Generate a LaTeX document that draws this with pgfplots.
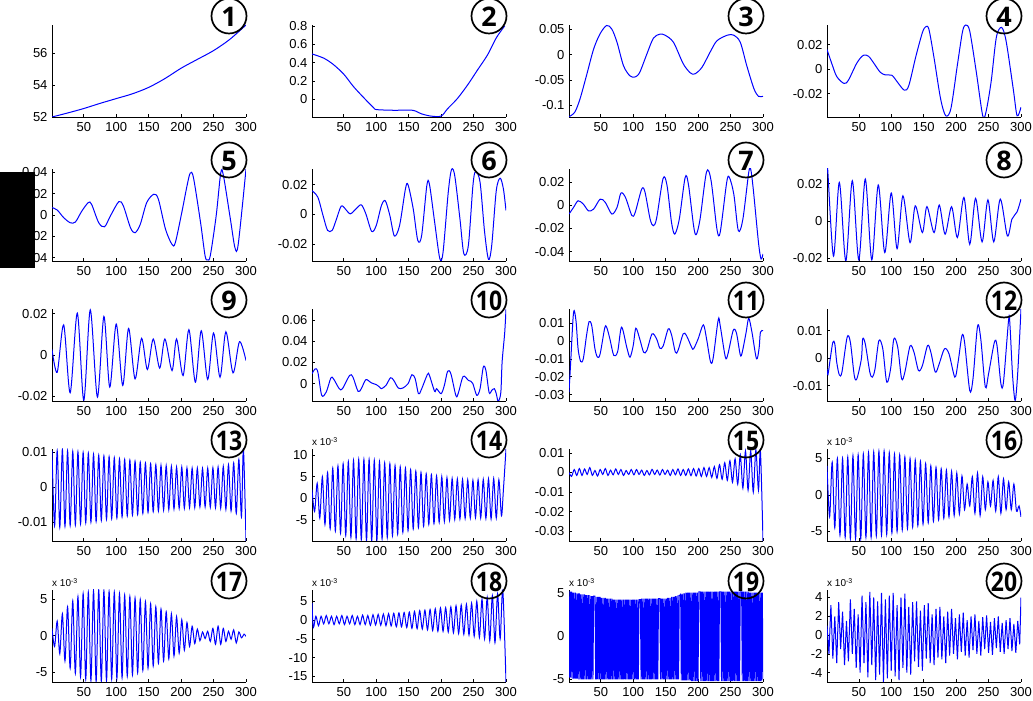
\documentclass[border=0pt]{standalone}
\usepackage{fontspec}
\setmainfont{Liberation Sans}
\newfontfamily\circfont{Open Sans}
\usepackage{graphicx}
\usepackage{pgfplots}
\pgfplotsset{compat=1.18}
\newcommand{\circnum}[2][1]{%
  \node[circle,draw,line width=1.7pt,minimum size=35pt,inner sep=0pt] at (rel axis cs:1,1) [xshift=-17pt,yshift=9pt] {};
  \node[inner sep=0pt,font=\circfont\bfseries\fontsize{27}{27}\selectfont] at (rel axis cs:1,1) [xshift=-17pt,yshift=8pt] {\scalebox{#1}[1]{#2}};}
\newcommand{\expo}{\node[anchor=south west,inner sep=0pt,font=\fontsize{10}{10}\selectfont] at (rel axis cs:0,1) [yshift=3pt] {x 10\textsuperscript{-3}};}
\pgfplotsset{
  sub/.style={scale only axis,width=194pt,height=92pt,anchor=south west,
    axis lines*=left, axis line style={-,line width=0.7pt},
    xmin=1,xmax=300,xtick={50,100,150,200,250,300},
    tick align=inside, major tick length=3pt, tick style={line width=0.6pt,black},
    tick label style={font=\fontsize{13}{13}\selectfont},
    /pgf/number format/assume math mode=true,
    scaled ticks=false,
    yticklabel style={/pgf/number format/fixed,/pgf/number format/precision=2,xshift=-1pt},
    xticklabel style={yshift=-2pt},
    clip mode=individual,
    every axis plot/.append style={blue,line width=1pt,no markers}},
}
\begin{document}
\begin{tikzpicture}
\useasboundingbox (0,0) rectangle (1033pt,701pt);
% ---------------- row 1
\begin{axis}[sub,at={(52pt,584pt)},ymin=52,ymax=57.75,ytick={52,54,56}]
\addplot+[smooth] coordinates {(1,52)(25,52.25)(50,52.53)(75,52.85)(100,53.15)(125,53.45)(150,53.85)(175,54.4)(200,55.05)(225,55.6)(250,56.15)(275,56.85)(300,57.75)};
\circnum{1}
\end{axis}
\begin{axis}[sub,at={(312pt,584pt)},ymin=-0.19,ymax=0.81,ytick={0,0.2,0.4,0.6,0.8}]
\addplot+[smooth] coordinates {(1,0.495)(19,0.45)(34,0.38)(50,0.275)(65,0.14)(81,0.018)(96,-0.09)(101,-0.11)(127,-0.117)(156,-0.117)(169,-0.154)(184,-0.18)(200,-0.18)(210,-0.1)(225,0.01)(241,0.16)(256,0.32)(272,0.49)(285,0.67)(298,0.8)};
\circnum{2}
\end{axis}
\begin{axis}[sub,at={(569pt,584pt)},ymin=-0.1226,ymax=0.058,ytick={-0.1,-0.05,0,0.05}]
\addplot+[smooth] coordinates {(1,-0.122)(10,-0.113)(18,-0.087)(28,-0.041)(39,0.011)(49,0.041)(59,0.057)(67,0.05)(75,0.024)(85,-0.022)(95,-0.042)(103,-0.044)(110,-0.035)(121,0.001)(131,0.032)(141,0.04)(149,0.038)(162,0.024)(177,-0.018)(188,-0.036)(195,-0.038)(206,-0.025)(219,0.006)(229,0.027)(245,0.038)(255,0.038)(265,0.024)(275,-0.022)(286,-0.067)(293,-0.082)(300,-0.082)};
\circnum{3}
\end{axis}
\begin{axis}[sub,at={(827pt,584pt)},ymin=-0.039,ymax=0.036,ytick={-0.02,0,0.02}]
\addplot+[smooth] coordinates {(1,0.016)(9,0.0036)(16,-0.006)(27,-0.0116)(34,-0.009)(47,0.005)(57,0.0113)(65,0.0105)(73,0.005)(83,-0.0025)(91,-0.0047)(101,-0.005)(109,-0.0102)(120,-0.0171)(127,-0.0135)(138,0.0105)(148,0.0298)(153,0.0345)(158,0.0326)(166,0.0091)(176,-0.024)(184,-0.038)(192,-0.032)(202,0.0036)(210,0.031)(215,0.036)(221,0.031)(231,-0.002)(241,-0.038)(246,-0.035)(254,-0.010)(262,0.026)(270,0.034)(277,0.023)(288,-0.016)(294,-0.038)(300,-0.031)};
\circnum{4}
\end{axis}
% ---------------- row 2
\begin{axis}[sub,at={(52pt,440pt)},ymin=-0.043,ymax=0.043,ytick={-0.04,-0.02,0,0.02,0.04}]
\addplot+[smooth] coordinates {(1,0.0069)(9,0.0047)(19,-0.0025)(29,-0.0072)(37,-0.0066)(47,0.0037)(57,0.0116)(62,0.01)(73,-0.0072)(82,-0.011)(91,-0.0009)(104,0.0125)(111,0.0084)(122,-0.012)(129,-0.0166)(137,-0.0088)(147,0.0116)(158,0.0194)(165,0.0147)(176,-0.0134)(186,-0.0275)(191,-0.026)(201,0.0022)(209,0.027)(214,0.0391)(219,0.035)(230,-0.0072)(237,-0.0384)(241,-0.042)(245,-0.038)(254,-0.0009)(261,0.039)(265,0.0375)(276,-0.0041)(283,-0.0306)(288,-0.0275)(300,0.0428)};
\circnum{5}
\end{axis}
\begin{axis}[sub,at={(312pt,440pt)},ymin=-0.0313,ymax=0.0306,ytick={-0.02,0,0.02}]
\addplot+[smooth] coordinates {(1,0.016)(10,0.0116)(18,-0.0007)(25,-0.0107)(32,-0.0107)(38,-0.004)(46,0.0056)(53,0.0034)(60,0.0004)(69,0.0038)(77,0.0065)(84,0.0004)(93,-0.0114)(100,-0.0074)(108,0.006)(114,0.0092)(121,-0.0007)(128,-0.0145)(136,-0.0074)(145,0.0172)(149,0.02)(157,0.0038)(164,-0.0174)(170,-0.0141)(178,0.0195)(182,0.0203)(190,-0.0051)(198,-0.0297)(203,-0.0253)(211,0.015)(216,0.0302)(221,0.0261)(229,-0.0029)(235,-0.0264)(242,-0.0208)(249,0.0194)(253,0.0288)(260,0.0217)(267,-0.0118)(273,-0.0302)(278,-0.0208)(285,0.016)(291,0.0244)(296,0.0172)(300,0.0027)};
\circnum{6}
\end{axis}
\begin{axis}[sub,at={(569pt,440pt)},ymin=-0.048,ymax=0.031,ytick={-0.04,-0.02,0,0.02}]
\addplot+[smooth] coordinates {(1,-0.0077)(8,-0.002)(15,0.0037)(23,0.0009)(31,-0.0049)(39,-0.0034)(49,0.0051)(57,0.0023)(67,-0.0077)(75,-0.002)(81,0.0103)(88,0.0066)(98,-0.0091)(103,-0.0063)(113,0.0137)(118,0.0114)(126,-0.012)(131,-0.0177)(136,-0.0114)(146,0.0229)(152,0.0171)(159,-0.0149)(164,-0.0249)(171,-0.012)(180,0.0237)(185,0.018)(193,-0.0177)(197,-0.0254)(203,-0.012)(213,0.0286)(220,0.0209)(229,-0.0206)(234,-0.0234)(244,0.0194)(248,0.024)(255,0.0094)(262,-0.022)(269,-0.012)(278,0.028)(281,0.0309)(285,0.0137)(293,-0.032)(297,-0.0463)(300,-0.042)};
\circnum{7}
\end{axis}
\begin{axis}[sub,at={(827pt,440pt)},ymin=-0.0216,ymax=0.0279,ytick={-0.02,0,0.02}]
\addplot+[smooth] coordinates {(1,0.026)(2,0.028)(11,-0.019)(20,0.0207)(30,-0.0216)(40,0.0216)(50,-0.021)(60,0.0225)(70,-0.021)(80,0.0193)(90,-0.0171)(100,0.015)(109,-0.015)(118,0.0135)(129,-0.0117)(137,0.0081)(148,-0.0063)(155,0.0077)(166,-0.0063)(174,0.0085)(183,-0.0072)(193,0.0076)(202,-0.009)(212,0.0126)(221,-0.0126)(230,0.0121)(240,-0.0113)(249,0.0113)(258,-0.0113)(268,0.0117)(279,-0.0081)(286,0.0009)(294,0.0049)(300,0.0117)};
\circnum{8}
\end{axis}
% ---------------- row 3
\begin{axis}[sub,at={(52pt,300pt)},ymin=-0.0223,ymax=0.0222,ytick={-0.02,0,0.02}]
\addplot+[smooth] coordinates {(1,0.0026)(9,-0.0084)(19,0.0145)(29,-0.0183)(40,0.0202)(50,-0.022)(60,0.0218)(71,-0.0204)(81,0.0186)(90,-0.0156)(100,0.0149)(110,-0.0148)(119,0.0128)(129,-0.0116)(139,0.008)(148,-0.0071)(157,0.0077)(167,-0.0064)(175,0.0077)(186,-0.0076)(193,0.0077)(203,-0.01)(212,0.0122)(222,-0.0132)(231,0.0117)(241,-0.0119)(250,0.0106)(260,-0.0108)(269,0.0112)(280,-0.0087)(290,0.0064)(300,-0.0027)};
\circnum{9}
\end{axis}
\begin{axis}[sub,at={(312pt,300pt)},ymin=-0.0163,ymax=0.0703,ytick={0,0.02,0.04,0.06}]
\addplot+[smooth] coordinates {(1,0.0094)(6,0.014)(10,0.011)(16,-0.011)(23,-0.0078)(30,0.0053)(34,0.0047)(43,-0.0047)(48,-0.0047)(59,0.0078)(64,0.0063)(72,-0.0072)(77,-0.0047)(84,0.0038)(92,0.0009)(100,-0.0009)(105,-0.0031)(108,-0.0047)(115,-0.0016)(122,0.0056)(127,0.0031)(134,-0.0041)(141,-0.0041)(149,0)(155,0.0084)(160,0.0047)(165,-0.0094)(169,-0.0063)(179,0.0088)(182,0.0078)(190,-0.0072)(193,-0.0047)(200,-0.0094)(205,-0.0016)(210,0.0116)(215,0.0094)(223,-0.0116)(227,-0.0078)(234,0.0069)(242,0.0031)(246,0.0022)(249,0)(255,-0.011)(260,-0.0047)(265,0.0156)(269,0.0125)(274,-0.0084)(278,-0.0063)(282,-0.0047)(285,-0.0094)(288,-0.0166)(292,-0.0084)(294,0.0203)(298,0.048)(300,0.07)};
\circnum[0.85]{10}
\end{axis}
\begin{axis}[sub,at={(569pt,300pt)},ymin=-0.0336,ymax=0.0181,ytick={-0.03,-0.02,-0.01,0,0.01}]
\addplot+[smooth] coordinates {(1,-0.0286)(3.6,-0.0118)(7,0.0116)(9,0.0172)(12,0.0107)(15,-0.0043)(19,-0.0114)(23,-0.0099)(28,0.0032)(32,0.011)(36,0.0088)(41,-0.0043)(45,-0.009)(49,-0.0071)(56,0.0073)(59,0.0079)(64,0.0013)(70,-0.008)(76,-0.0058)(82,0.0079)(90,-0.0034)(95,-0.009)(100,-0.0024)(104,0.0073)(110,0.0013)(116,-0.0062)(121,-0.0052)(129,0.0041)(136,0.0013)(141,-0.0039)(146,-0.0028)(154,0.0069)(159,0.0036)(165,-0.0062)(169,-0.0052)(177,0.0041)(182,0.0032)(190,-0.0034)(193,-0.0043)(200,0.0013)(208,0.0092)(213,0.0013)(219,-0.0114)(223,-0.0099)(231,0.0121)(234,0.0088)(242,-0.009)(246,-0.0071)(254,0.006)(259,0.0047)(265,-0.0077)(268,-0.0062)(274,0.005)(278,0.0129)(283,0.005)(290,-0.0099)(294,-0.0039)(296,0.005)(300,0.006)};
\circnum[0.85]{11}
\end{axis}
\begin{axis}[sub,at={(827pt,300pt)},ymin=-0.0156,ymax=0.0179,ytick={-0.01,0,0.01}]
\addplot+[smooth] coordinates {(1,-0.0039)(2.5,-0.006)(6,-0.0002)(10,0.0058)(13,0.0052)(16,-0.0015)(20,-0.0061)(24,-0.0051)(32,0.0076)(37,0.0058)(43,-0.0063)(47,-0.0075)(54,-0.0002)(56,0.007)(60,0.0052)(67,-0.0051)(71,-0.0069)(75,-0.0039)(81,0.0064)(87,0.0034)(93,-0.0087)(99,-0.0039)(104,0.007)(110,0.004)(116,-0.0075)(121,-0.0051)(129,0.0044)(135,0.0022)(142,-0.0045)(148,-0.0027)(156,0.0046)(161,0.0022)(168,-0.0051)(174,-0.002)(182,0.0034)(189,0.0016)(198,-0.0069)(203,-0.0015)(209,0.0082)(213,0.0058)(221,-0.0118)(226,-0.0075)(233,0.0116)(238,0.007)(245,-0.0105)(250,-0.0057)(259,0.0058)(263,0.0046)(269,-0.0093)(273,-0.0087)(281,0.0142)(283,0.0119)(287,-0.0063)(291,-0.0154)(295,-0.0051)(300,0.0179)};
\circnum[0.85]{12}
\end{axis}
% ---------------- row 4
\begin{axis}[sub,at={(52pt,160pt)},ymin=-15.4,ymax=11,ytick={-10,0,10},yticklabels={-0.01,0,0.01}]
\addplot+[smooth] coordinates {(1,10.5)(5,-11)(9,10.5)(13,-11.5)(17,10.8)(21,-11.2)(25,10.5)(29,-11)(33,10.3)(37,-10.8)(41,10.2)(45,-10.5)(49,10)(53,-10.2)(57,9.8)(61,-10)(65,9.5)(69,-9.8)(73,9.2)(77,-9.5)(81,9)(85,-9.2)(89,8.8)(93,-9)(97,8.5)(101,-8.8)(105,8.2)(109,-8.5)(113,8)(117,-8.2)(121,7.8)(125,-8)(129,7.5)(133,-7.8)(137,7.2)(141,-7.5)(145,7)(149,-7.2)(153,6.8)(157,-7)(161,6.5)(165,-6.8)(169,6.3)(173,-6.5)(177,6.2)(181,-6.4)(185,6)(189,-6.2)(193,5.8)(197,-6)(201,5.8)(205,-6)(209,5.6)(213,-5.8)(217,5.5)(221,-5.8)(225,5.5)(229,-5.6)(233,5.4)(237,-5.6)(241,5.5)(245,-5.7)(249,5.6)(253,-5.8)(257,5.8)(261,-6)(265,6)(269,-6.3)(273,6.5)(277,-6.8)(281,7)(285,-7.5)(289,8)(293,-8.5)(296,11)(300,-15.4)};
\circnum[0.85]{13}
\end{axis}
\begin{axis}[sub,at={(312pt,160pt)},ymin=-9.8,ymax=11.4,ytick={-5,0,5,10}]
\addplot+[smooth] coordinates {(1,2)(5,-3)(9,3.5)(13,-4.5)(17,5)(21,-6)(25,6)(29,-7)(33,7)(37,-7.5)(41,7.5)(45,-8)(49,8)(53,-8.5)(57,8.5)(61,-9)(65,8.8)(69,-9.3)(73,9)(77,-9.5)(81,9)(85,-9.7)(89,9)(93,-9.8)(97,8.8)(101,-9.6)(105,8.5)(109,-9.3)(113,8.2)(117,-9)(121,8)(125,-8.6)(129,7.6)(133,-8.2)(137,7.3)(141,-7.8)(145,7)(149,-7.4)(153,6.6)(157,-7)(161,6.3)(165,-6.7)(169,6)(173,-6.4)(177,5.7)(181,-6)(185,5.5)(189,-5.8)(193,5.2)(197,-5.5)(201,5)(205,-5.3)(209,4.8)(213,-5)(217,4.6)(221,-4.8)(225,4.5)(229,-4.7)(233,4.4)(237,-4.6)(241,4.3)(245,-4.5)(249,4.2)(253,-4.4)(257,4.3)(261,-4.5)(265,4.4)(269,-4.6)(273,4.5)(277,-4.7)(281,4.6)(285,-4.5)(289,4.3)(293,-4)(296,2)(300,11.4)};
\expo
\circnum[0.85]{14}
\end{axis}
\begin{axis}[sub,at={(569pt,160pt)},ymin=-35,ymax=12,ytick={-30,-20,-10,0,10},yticklabels={-0.03,-0.02,-0.01,0,0.01}]
\addplot+[smooth] coordinates {(1,0)(5,-2)(9,1.5)(13,-1.5)(17,2)(21,-1.5)(25,1.8)(29,-1)(33,2.5)(37,-1.5)(41,1)(45,-1.8)(49,1.5)(53,-1)(57,2)(61,-1.5)(65,1.2)(69,-1.2)(73,1.8)(77,-1)(81,1.5)(85,-1.5)(89,1)(93,-1)(97,1.5)(101,-1.2)(105,1.5)(109,-1)(113,1.2)(117,-1.5)(121,1)(125,-1.2)(129,1.6)(133,-1)(137,1.2)(141,-1.3)(145,1.5)(149,-1)(153,1.2)(157,-1.5)(161,1.5)(165,-1.2)(169,1.8)(173,-1.5)(177,1.5)(181,-1.5)(185,1.8)(189,-1.6)(193,2)(197,-1.8)(201,2)(205,-2)(209,2.5)(213,-2)(217,2.5)(221,-2.5)(225,3)(229,-3)(233,4)(237,-3.5)(241,5)(245,-4)(249,6)(253,-5)(257,7)(261,-6)(265,9)(269,-8)(273,11)(277,-9)(281,11)(285,-10)(289,11.5)(293,-9)(296,11)(300,-35)};
\circnum[0.85]{15}
\end{axis}
\begin{axis}[sub,at={(827pt,160pt)},ymin=-6.3,ymax=6.3,ytick={-5,0,5}]
\addplot+[smooth] coordinates {(1,4)(5,-3)(9,4.5)(13,-4.5)(17,5)(21,-5.5)(25,5)(29,-5.8)(33,5.2)(37,-6)(41,5.4)(45,-6)(49,5.5)(53,-6)(57,5.6)(61,-5.8)(65,5.8)(69,-5.8)(73,5.9)(77,-5.6)(81,6)(85,-5.5)(89,6)(93,-5.4)(97,5.8)(101,-5.2)(105,5.6)(109,-5)(113,5.5)(117,-4.8)(121,5.2)(125,-4.6)(129,5)(133,-4.4)(137,4.8)(141,-4.2)(145,4.6)(149,-4)(153,4.3)(157,-3.8)(161,4)(165,-3.6)(169,3.8)(173,-3.4)(177,3.6)(181,-3.2)(185,3.4)(189,-3)(193,3.2)(197,-2.8)(201,3)(205,-2.6)(209,2.6)(213,-2)(217,1.5)(221,-1.5)(225,2.5)(229,-2.5)(233,3)(237,-2.8)(241,2.5)(245,-2)(249,1.8)(253,-1.5)(257,2)(261,-2.2)(265,2.5)(269,-2.5)(273,2.2)(277,-2)(281,1.8)(285,-2)(289,1.5)(293,-2.2)(297,-1.5)(300,-3)};
\expo
\circnum[0.85]{16}
\end{axis}
% ---------------- row 5
\begin{axis}[sub,at={(52pt,19pt)},ymin=-6.4,ymax=6.3,ytick={-5,0,5}]
\addplot+[smooth] coordinates {(1,1)(5,-1.5)(9,2)(13,-2.5)(17,3)(21,-3.5)(25,4)(29,-4.5)(33,4.8)(37,-5.2)(41,5.4)(45,-5.7)(49,5.8)(53,-6)(57,6)(61,-6.2)(65,6.2)(69,-6.3)(73,6.3)(77,-6.3)(81,6.2)(85,-6.2)(89,6.1)(93,-6)(97,6)(101,-5.9)(105,5.8)(109,-5.8)(113,5.6)(117,-5.6)(121,5.4)(125,-5.4)(129,5.2)(133,-5.1)(137,5)(141,-4.8)(145,4.7)(149,-4.5)(153,4.4)(157,-4.2)(161,4)(165,-3.8)(169,3.7)(173,-3.5)(177,3.3)(181,-3.2)(185,3)(189,-2.8)(193,2.6)(197,-2.4)(201,2.2)(205,-2)(209,1.8)(213,-1.5)(217,1.3)(221,-1.1)(225,0.9)(229,-0.7)(233,0.5)(237,-0.4)(241,0.6)(245,-0.8)(249,1)(253,-1.2)(257,1.3)(261,-1.2)(265,1)(269,-0.8)(273,0.6)(277,-0.5)(281,0.8)(285,-1)(289,0.5)(293,-0.3)(297,0.2)(300,-0.1)};
\expo
\circnum[0.85]{17}
\end{axis}
\begin{axis}[sub,at={(312pt,19pt)},ymin=-16.5,ymax=8,ytick={-15,-10,-5,0,5}]
\addplot+[smooth] coordinates {(1,4.5)(3,-2)(7,1)(11,-1.5)(15,1)(19,-1)(23,1.2)(27,-1)(31,1)(35,-1.2)(39,1)(43,-1)(47,1.2)(51,-1.2)(55,1)(59,-1)(63,1.2)(67,-1.2)(71,1)(75,-1.2)(79,1.3)(83,-1.2)(87,1.2)(91,-1.4)(95,1.4)(99,-1.3)(103,1.5)(107,-1.4)(111,1.6)(115,-1.5)(119,1.7)(123,-1.6)(127,1.8)(131,-1.8)(135,1.9)(139,-1.8)(143,2)(147,-2)(151,2.1)(155,-2.2)(159,2.3)(163,-2.3)(167,2.5)(171,-2.4)(175,2.6)(179,-2.6)(183,2.8)(187,-2.8)(191,3)(195,-3)(199,3.2)(203,-3)(207,3.3)(211,-3.2)(215,3.5)(219,-3.4)(223,3.8)(227,-3.6)(231,4)(235,-3.8)(239,4.2)(243,-4)(247,4.5)(251,-4.3)(255,5)(259,-4.6)(263,5.5)(267,-5)(271,6)(275,-5.5)(279,6.5)(283,-6)(287,7)(291,-5)(295,8)(300,-16.5)};
\expo
\circnum[0.85]{18}
\end{axis}
\begin{axis}[sub,at={(569pt,19pt)},ymin=-5.3,ymax=5.3,ytick={-5,0,5}]
\addplot+[line width=0.9pt] coordinates {(1,5.2)(2,-4.8)(3,5.1)(4,-4.8)(5,5.1)(6,-4.9)(7,5)(8,-4.9)(9,5)(10,-4.9)(11,5)(12,-4.9)(13,4.9)(14,-4.9)(15,4.9)(16,-5)(17,4.9)(18,-5)(19,4.8)(20,-5)(21,4.8)(22,-5)(23,4.8)(24,-5)(25,4.8)(26,-5)(27,4.7)(28,-5)(29,4.7)(30,-5)(31,4.7)(32,-5)(33,4.7)(34,-5)(35,4.6)(36,-5)(37,4.6)(38,-5)(39,4.6)(40,4.6)(41,4.6)(42,-5)(43,4.5)(44,-5)(45,4.5)(46,-5)(47,4.5)(48,-5)(49,4.5)(50,-5)(51,4.4)(52,-5)(53,4.4)(54,-5)(55,4.4)(56,-5)(57,4.4)(58,-5)(59,4.3)(60,-5)(61,4.3)(62,-5)(63,4.3)(64,-5)(65,4.3)(66,-5)(67,4.3)(68,-5)(69,4.2)(70,-5)(71,4.2)(72,-5)(73,4.2)(74,-5)(75,4.2)(76,-5)(77,4.2)(78,-5)(79,4.2)(80,-5)(81,4.2)(82,-5)(83,4.2)(84,-5)(85,4.2)(86,-5)(87,4.2)(88,-5)(89,4.2)(90,-5)(91,4.2)(92,-5)(93,4.2)(94,-5)(95,4.2)(96,-5)(97,4.2)(98,-5)(99,4.2)(100,-5)(101,4.2)(102,-5)(103,4.2)(104,-5)(105,4.2)(106,-5)(107,4.2)(108,-5)(109,4.2)(110,4.2)(111,4.2)(112,-5)(113,4.3)(114,-5)(115,4.3)(116,-5)(117,4.3)(118,-5)(119,4.3)(120,-5)(121,4.3)(122,-5)(123,4.3)(124,-5)(125,4.3)(126,-5)(127,4.3)(128,-5)(129,4.3)(130,-5)(131,4.3)(132,-5)(133,4.3)(134,-5)(135,4.3)(136,-5)(137,4.3)(138,-5)(139,4.3)(140,4.3)(141,4.3)(142,-5)(143,4.3)(144,-5)(145,4.3)(146,-5)(147,4.3)(148,-5)(149,4.3)(150,-5)(151,4.3)(152,-5)(153,4.4)(154,-5)(155,4.4)(156,-5)(157,4.4)(158,-5)(159,4.5)(160,-5)(161,4.5)(162,-5)(163,4.5)(164,-5)(165,4.6)(166,-5)(167,4.6)(168,-5)(169,4.7)(170,-5)(171,4.7)(172,4.7)(173,4.8)(174,-5.1)(175,4.8)(176,-5.1)(177,4.9)(178,-5.1)(179,4.9)(180,-5.1)(181,5)(182,-5.1)(183,5)(184,-5.1)(185,5)(186,-5.1)(187,5)(188,-5.1)(189,5)(190,-5.2)(191,5)(192,-5.2)(193,5)(194,-5.2)(195,5)(196,-5.2)(197,5)(198,-5.2)(199,5)(200,-5.2)(201,5.1)(202,5.1)(203,5.1)(204,-5.2)(205,5.1)(206,-5.2)(207,5.1)(208,-5.2)(209,5.1)(210,-5.2)(211,5.1)(212,-5.2)(213,5.1)(214,-5.2)(215,5.1)(216,-5.2)(217,5.1)(218,-5.2)(219,5.1)(220,-5.2)(221,5.1)(222,-5.2)(223,5.1)(224,-5.2)(225,5.1)(226,-5.2)(227,5.1)(228,-5.2)(229,5.1)(230,-5.2)(231,5.1)(232,-5.2)(233,5.1)(234,5.1)(235,5.1)(236,-5.2)(237,5.1)(238,-5.2)(239,5.1)(240,-5.2)(241,5.1)(242,-5.2)(243,5.1)(244,-5.2)(245,5.1)(246,-5.2)(247,5.1)(248,-5.2)(249,5.1)(250,-5.2)(251,5.1)(252,-5.2)(253,5.1)(254,-5.2)(255,5.1)(256,-5.2)(257,5.1)(258,-5.2)(259,5.1)(260,-5.2)(261,5.1)(262,-5.2)(263,5.1)(264,-5.2)(265,5.1)(266,5.1)(267,5.1)(268,-5.2)(269,5.1)(270,-5.2)(271,5.1)(272,-5.2)(273,5.1)(274,-5.2)(275,5.1)(276,-5.2)(277,5.1)(278,-5.2)(279,5)(280,-5.2)(281,5)(282,-5.2)(283,5)(284,-5.2)(285,5)(286,-5.2)(287,5)(288,-5.2)(289,5)(290,-5.2)(291,5)(292,-5.2)(293,5)(294,-5.2)(295,5)(296,-5.2)(297,5)(298,-5.2)(299,5)(300,-5)};
\expo
\circnum[0.85]{19}
\end{axis}
\begin{axis}[sub,at={(827pt,19pt)},ymin=-5,ymax=4.8,ytick={-4,-2,0,2,4}]
\addplot+[line width=1pt] coordinates {(1,1)(4,-2)(7,3.2)(10,-2.5)(13,2)(16,-3)(19,3.5)(22,-1.5)(25,2.5)(28,-3.2)(31,1.5)(34,-2.8)(37,3.8)(40,-2)(43,2.8)(46,-3.5)(49,2.2)(52,-4)(55,4.2)(58,-3)(61,3.5)(64,-4.5)(67,4.6)(70,-3.2)(73,4)(76,-4.8)(79,3.6)(82,-4.2)(85,4.5)(88,-5)(91,3.8)(94,-4.6)(97,4.2)(100,-3.8)(103,4.5)(106,-4.4)(109,3.2)(112,-4.8)(115,4)(118,-3.5)(121,4.4)(124,-4)(127,3)(130,-4.2)(133,3.5)(136,-2.8)(139,3.6)(142,-3.4)(145,2.6)(148,-3.8)(151,3.2)(154,-2.5)(157,3.4)(160,-3)(163,2.2)(166,-3.2)(169,2.8)(172,-2.4)(175,3)(178,-2.6)(181,2)(184,-3)(187,2.5)(190,-2.2)(193,2.8)(196,-2)(199,1.8)(202,-2.6)(205,2.2)(208,-1.8)(211,2.4)(214,-2.2)(217,1.6)(220,-2.4)(223,2)(226,-1.6)(229,2.2)(232,-2)(235,1.5)(238,-2.2)(241,1.9)(244,-1.5)(247,2.1)(250,-1.9)(253,1.4)(256,-2.1)(259,1.8)(262,-1.4)(265,2)(268,-1.8)(271,1.3)(274,-2)(277,1.6)(280,-1.5)(283,1.8)(286,-1.7)(289,1.2)(292,-1.9)(295,1.5)(298,-1)(300,4)};
\expo
\circnum[0.85]{20}
\end{axis}
\fill[black] (0,433pt) rectangle (35pt,529pt);
\end{tikzpicture}
\end{document}
